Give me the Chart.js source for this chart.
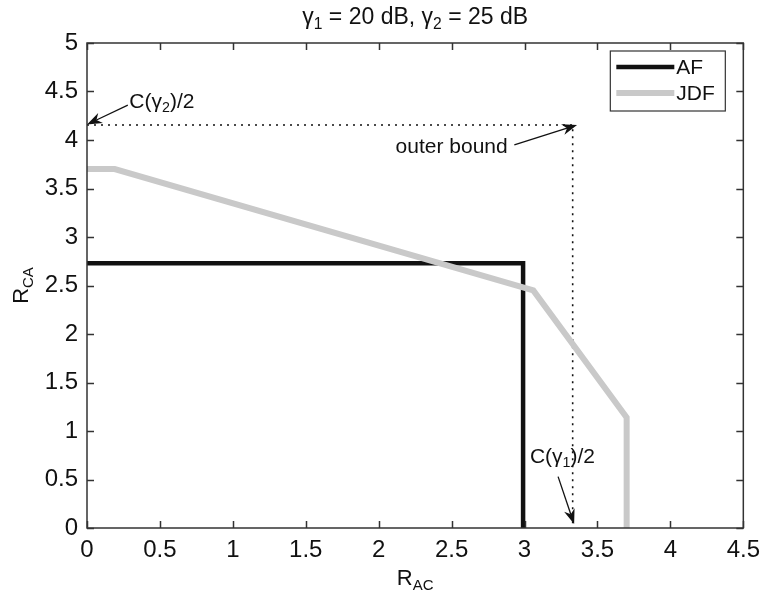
<!DOCTYPE html>
<html>
<head>
<meta charset="utf-8">
<script src="https://cdn.jsdelivr.net/npm/chart.js@4"></script>
<style>
  html, body { margin: 0; padding: 0; background: #fff; }
  #wrap { width: 768px; height: 597px; }
</style>
</head>
<body>
<div id="wrap"><canvas id="myChart" width="768" height="597"></canvas></div>
<script>
// Rate region curves
var afX = [0, 2.99, 2.99];
var afY = [2.73, 2.73, 0];
var jdfX = [0, 0.19, 3.06, 3.70, 3.70];
var jdfY = [3.70, 3.70, 2.45, 1.14, 0];
// Outer bound: C(g1)/2 and C(g2)/2
var boundX = [0, 3.33, 3.33];
var boundY = [4.155, 4.155, 0];

// Text notes with their arrows (tail -> tip), in data units
var noteText = ["C(γ|2|)/2", "outer bound", "C(γ|1|)/2"];
var noteX = [0.29, 2.50, 3.26];
var noteY = [4.39, 3.93, 0.73];
var noteAlign = ["left", "center", "center"];
var arrowFrom = [[0.28, 4.36], [2.93, 3.95], [3.23, 0.53]];
var arrowTo = [[0.0, 4.16], [3.36, 4.155], [3.34, 0.04]];

var FONT = '"Liberation Sans", Arial, sans-serif';

function pts(xs, ys) {
  return xs.map(function (x, i) { return { x: x, y: ys[i] }; });
}

function fmt(v) { return String(Math.round(v * 100) / 100); }

// "a|b|c" -> b is drawn as a subscript
function drawRich(ctx, str, x, y, size, align) {
  var parts = str.split("|");
  var segs = parts.map(function (t, i) { return { t: t, sub: i % 2 === 1 }; });
  var w = 0;
  segs.forEach(function (s) {
    ctx.font = (s.sub ? size * 0.68 : size) + "px " + FONT;
    s.w = ctx.measureText(s.t).width;
    w += s.w;
  });
  var cx = align === "center" ? x - w / 2 : x;
  ctx.textAlign = "left";
  ctx.textBaseline = "middle";
  segs.forEach(function (s) {
    ctx.font = (s.sub ? size * 0.68 : size) + "px " + FONT;
    ctx.fillText(s.t, cx, s.sub ? y + size * 0.3 : y);
    cx += s.w;
  });
}

function arrow(ctx, x1, y1, x2, y2) {
  var a = Math.atan2(y2 - y1, x2 - x1);
  var L = 15, W = 5.5;
  ctx.beginPath();
  ctx.moveTo(x1, y1);
  ctx.lineTo(x2 - L * 0.7 * Math.cos(a), y2 - L * 0.7 * Math.sin(a));
  ctx.stroke();
  ctx.beginPath();
  ctx.moveTo(x2, y2);
  ctx.lineTo(x2 - L * Math.cos(a) + W * Math.sin(a), y2 - L * Math.sin(a) - W * Math.cos(a));
  ctx.lineTo(x2 - L * 0.7 * Math.cos(a), y2 - L * 0.7 * Math.sin(a));
  ctx.lineTo(x2 - L * Math.cos(a) - W * Math.sin(a), y2 - L * Math.sin(a) + W * Math.cos(a));
  ctx.closePath();
  ctx.fill();
}

var decor = {
  id: "decor",
  afterDraw: function (chart) {
    var ctx = chart.ctx, ca = chart.chartArea;
    var xs = chart.scales.x, ys = chart.scales.y;
    ctx.save();
    ctx.strokeStyle = "#333";
    ctx.lineWidth = 1.5;
    ctx.strokeRect(ca.left, ca.top, ca.right - ca.left, ca.bottom - ca.top);
    // inward ticks on every side
    ctx.beginPath();
    xs.ticks.forEach(function (t) {
      var p = Math.round(xs.getPixelForValue(t.value)) + 0.5;
      ctx.moveTo(p, ca.bottom); ctx.lineTo(p, ca.bottom - 7);
      ctx.moveTo(p, ca.top); ctx.lineTo(p, ca.top + 7);
    });
    ys.ticks.forEach(function (t) {
      var p = Math.round(ys.getPixelForValue(t.value)) + 0.5;
      ctx.moveTo(ca.left, p); ctx.lineTo(ca.left + 7, p);
      ctx.moveTo(ca.right, p); ctx.lineTo(ca.right - 7, p);
    });
    ctx.stroke();

    ctx.fillStyle = "#111";
    // title and axis titles
    drawRich(ctx, "γ|1| = 20 dB, γ|2| = 25 dB", (ca.left + ca.right) / 2, 18, 23, "center");
    drawRich(ctx, "R|AC|", (ca.left + ca.right) / 2, 579, 22, "center");
    ctx.save();
    ctx.translate(22, (ca.top + ca.bottom) / 2);
    ctx.rotate(-Math.PI / 2);
    drawRich(ctx, "R|CA|", 0, 0, 22, "center");
    ctx.restore();

    // notes and arrows
    ctx.strokeStyle = "#111";
    ctx.lineWidth = 1.3;
    noteText.forEach(function (t, i) {
      drawRich(ctx, t, xs.getPixelForValue(noteX[i]), ys.getPixelForValue(noteY[i]), 21, noteAlign[i]);
      arrow(ctx,
        xs.getPixelForValue(arrowFrom[i][0]), ys.getPixelForValue(arrowFrom[i][1]),
        xs.getPixelForValue(arrowTo[i][0]), ys.getPixelForValue(arrowTo[i][1]));
    });

    // legend box
    var lx = ca.right - 133, ly = ca.top + 8, lw = 115, lh = 60;
    ctx.fillStyle = "#fff";
    ctx.fillRect(lx, ly, lw, lh);
    ctx.strokeStyle = "#333";
    ctx.lineWidth = 1.2;
    ctx.strokeRect(lx, ly, lw, lh);
    var row = 0;
    chart.data.datasets.forEach(function (ds) {
      if (!ds.inLegend) return;
      var yy = ly + 16 + row * 26;
      ctx.strokeStyle = ds.borderColor;
      ctx.lineWidth = ds.borderWidth;
      ctx.beginPath();
      ctx.moveTo(lx + 6, yy); ctx.lineTo(lx + 64, yy);
      ctx.stroke();
      ctx.fillStyle = "#111";
      ctx.font = "21px " + FONT;
      ctx.textAlign = "left";
      ctx.textBaseline = "middle";
      ctx.fillText(ds.label, lx + 66, yy + 1);
      row++;
    });
    ctx.restore();
  }
};

var ctx = document.getElementById("myChart");
var myChart = new Chart(ctx, {
  type: "scatter",
  data: {
    datasets: [
      {
        label: "AF",
        data: pts(afX, afY),
        showLine: true,
        borderColor: "#111111",
        borderWidth: 4.5,
        pointRadius: 0,
        fill: false,
        order: 2,
        inLegend: true
      },
      {
        label: "JDF",
        data: pts(jdfX, jdfY),
        showLine: true,
        borderColor: "#c9c9c9",
        borderWidth: 6,
        pointRadius: 0,
        fill: false,
        order: 1,
        inLegend: true
      },
      {
        label: "outer bound",
        data: pts(boundX, boundY),
        showLine: true,
        borderColor: "#111111",
        borderWidth: 1.6,
        borderDash: [2, 5],
        pointRadius: 0,
        fill: false,
        order: 3
      }
    ]
  },
  options: {
    responsive: false,
    animation: false,
    layout: { padding: { top: 43, right: 19, left: 0, bottom: 0 } },
    plugins: { legend: { display: false }, tooltip: { enabled: false } },
    scales: {
      x: {
        type: "linear",
        min: 0, max: 4.5,
        ticks: { stepSize: 0.5, color: "#111", padding: 8, font: { family: FONT, size: 24 }, callback: fmt },
        grid: { display: false, drawTicks: false },
        border: { display: false },
        afterFit: function (s) { s.height = 69; }
      },
      y: {
        type: "linear",
        min: 0, max: 5,
        ticks: { stepSize: 0.5, color: "#111", padding: 9, font: { family: FONT, size: 24 }, callback: fmt },
        grid: { display: false, drawTicks: false },
        border: { display: false },
        afterFit: function (s) { s.width = 87; }
      }
    }
  },
  plugins: [decor]
});
</script>
</body>
</html>
